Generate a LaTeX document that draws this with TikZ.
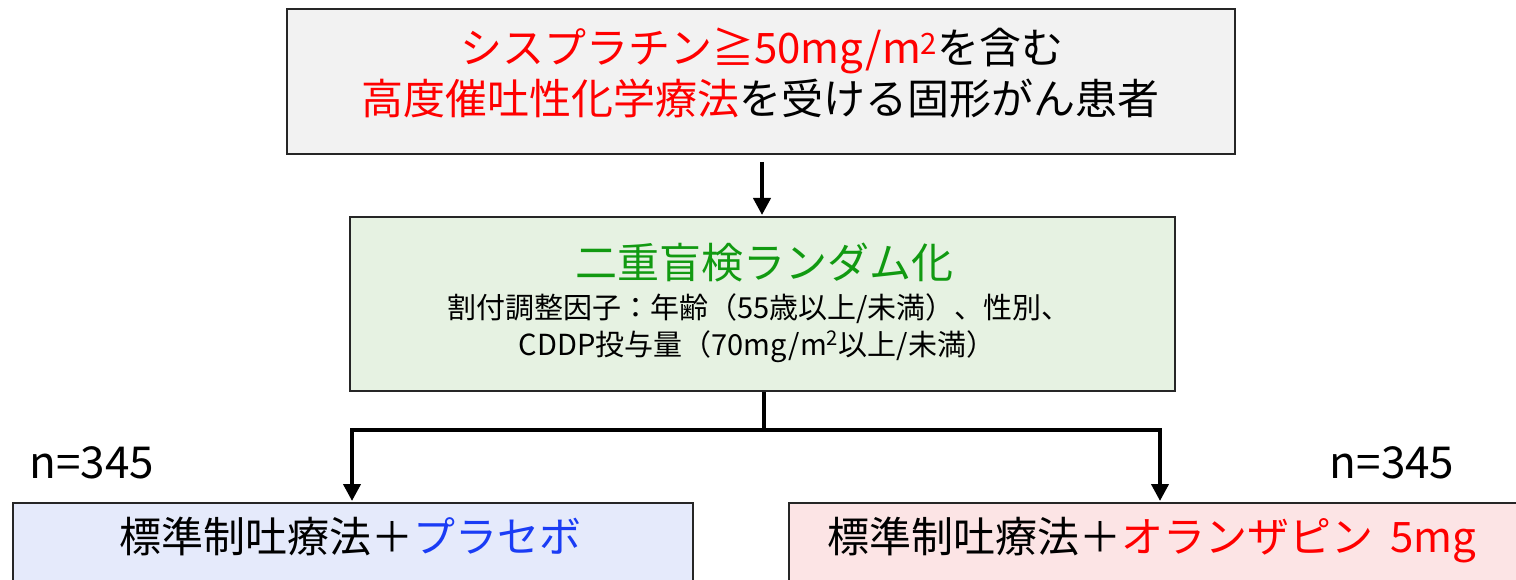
\documentclass[tikz,border=0pt]{standalone}
\usepackage{fontspec}
\setmainfont{Noto Sans CJK JP}
\usetikzlibrary{arrows.meta}
\definecolor{topfill}{HTML}{F2F2F2}
\definecolor{midfill}{HTML}{E6F2E2}
\definecolor{leftfill}{HTML}{E5EAFB}
\definecolor{rightfill}{HTML}{FCE4E5}
\definecolor{txtred}{HTML}{FF0000}
\definecolor{txtgreen}{HTML}{119A11}
\definecolor{txtblue}{HTML}{1A3CF5}
\definecolor{edge}{HTML}{262626}
\newcommand{\supp}[1]{\textsuperscript{#1}}
\tikzset{
  box/.style={draw=edge, line width=2pt, inner sep=0pt, anchor=north west},
  conn/.style={line width=4pt, black},
  arr/.style={conn, -{Triangle[length=17pt,width=17pt]}, shorten >=1pt},
  big/.style={font=\fontsize{42}{42}\selectfont, anchor=base, inner sep=0pt},
  small/.style={font=\fontsize{29}{29}\selectfont, anchor=base, inner sep=0pt},
  nlab/.style={font=\fontsize{44}{44}\selectfont, anchor=base, inner sep=0pt},
}
\begin{document}
\begin{tikzpicture}[x=1pt,y=-1pt]
\useasboundingbox (0,0) rectangle (1516,580);
\clip (0,0) rectangle (1516,580);
\fill[white] (0,0) rectangle (1516,580);
% boxes
\node[box, fill=topfill, minimum width=948pt, minimum height=145pt] (top) at (286,8) {};
\node[box, fill=midfill, minimum width=825pt, minimum height=174pt] (mid) at (349,216) {};
\node[box, fill=leftfill, minimum width=680pt, minimum height=120pt] (left) at (12,502) {};
\node[box, fill=rightfill, minimum width=760pt, minimum height=120pt] (right) at (788,502) {};
% texts
\node[big] (t1) at (762,64) {\color{txtred}シスプラチン≧50mg/m\supp{2}\color{black}を含む};
\node[big] (t2) at (760,115) {\color{txtred}高度催吐性化学療法\color{black}を受ける固形がん患者};
\node[big, text=txtgreen] (m1) at (764,279) {二重盲検ランダム化};
\node[small] (m2) at (759,318) {割付調整因子：年齢（55歳以上/未満）、性別、};
\node[small] (m3) at (757,355) {CDDP投与量（70mg/m\supp{2}以上/未満）};
\node[big] (l1) at (350,552) {標準制吐療法＋\color{txtblue}プラセボ};
\node[big] (r1) at (1152,552) {標準制吐療法＋\color{txtred}オランザピン\hspace{0.4em}5mg};
\node[nlab] (nl) at (92,478) {n=345};
\node[nlab] (nr) at (1392,478) {n=345};
% connectors
\coordinate (jl) at (352,430);
\coordinate (jr) at (1160,430);
\coordinate (jm) at (764,430);
\draw[arr] (top.south -| 762,0) ++(0,7) -- (762,216);
\draw[conn] (mid.south -| jm) -- ([yshift=-2pt]jm);
\draw[conn, line cap=rect] (jl) -- (jr);
\draw[arr] (jl) -- (jl |- left.north);
\draw[arr] (jr) -- (jr |- right.north);
\end{tikzpicture}
\end{document}
